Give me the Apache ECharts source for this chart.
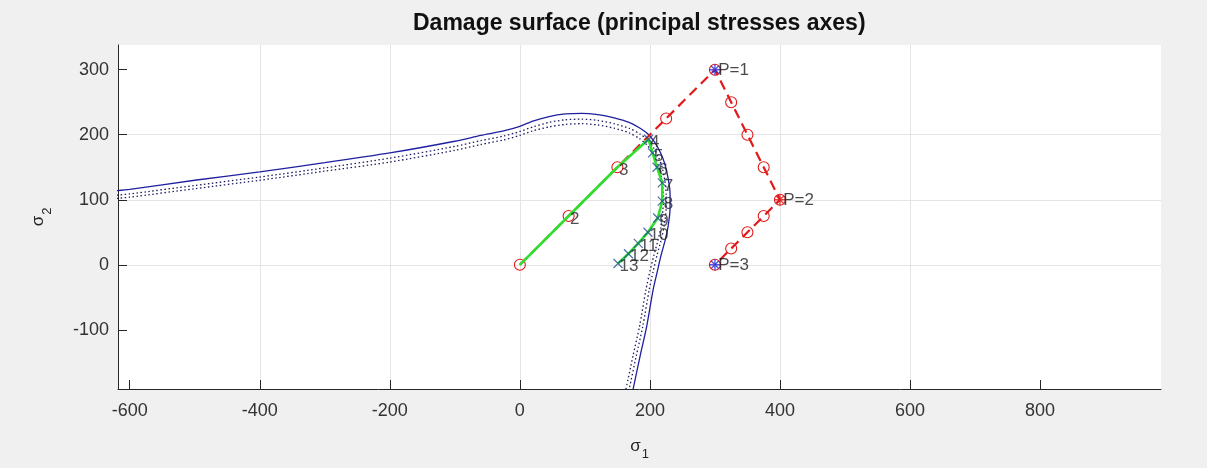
<!DOCTYPE html>
<html>
<head>
<meta charset="utf-8">
<script src="https://cdn.jsdelivr.net/npm/echarts@6/dist/echarts.min.js"></script>
<style>
  html, body { margin: 0; padding: 0; background: #f0f0f0; }
  #chart { width: 1207px; height: 468px; }
</style>
</head>
<body>
<div id="chart"></div>
<script>
// Damage surface in the principal stress plane (sigma1, sigma2)
const surfaceOuter = [
  [-620,114],[-600,116],[-500,130],[-400,143],[-300,157],[-200,172],[-100,190],[-60,199],[-25,206],
  [0,213],[20,221],[45,228],[70,232],[95,233],[120,231],[145,226],[168,219],[185,210],[197,201],
  [207,189],[216,173],[223,155],[228,133],[231,110],[231,88],[228,59],[223,36],[217,14],[211,-12],
  [205,-38],[195,-95],[185,-140],[174,-192]
];
// Surfaces reached at later damage levels (dotted)
const surfaceInnerA = [
  [-620,107],[-600,109],[-500,122],[-400,135],[-300,149],[-200,164],[-100,182],[-60,191],[-25,198],
  [0,205],[20,212],[45,219],[70,223],[95,224],[120,222],[145,217],[168,210],[185,201],[196,192],
  [205,181],[213,166],[219,149],[223,129],[225,108],[225,88],[222,60],[217,37],[211,15],[205,-10],
  [199,-38],[189,-95],[179,-140],[168,-192]
];
const surfaceInnerB = [
  [-620,102],[-600,104],[-500,117],[-400,130],[-300,144],[-200,158],[-100,176],[-60,185],[-25,192],
  [0,199],[20,206],[45,212],[70,216],[95,217],[120,215],[145,210],[168,203],[184,194],[195,185],
  [203,174],[210,160],[216,143],[219,124],[221,104],[220,85],[217,58],[212,36],[206,14],[200,-10],
  [194,-38],[184,-95],[174,-140],[163,-192]
];
// Applied (trial) load path, 13 increments
const loadPath = [
  [0,0],[75,75],[150,150],[225,225],[300,300],[325,250],[350,200],[375,150],[400,100],
  [375,75],[350,50],[325,25],[300,0]
];
// Computed stress path
const stressPath = [
  [0,0],[75,75],[150,150],[198,193],[204,172],[211,150],[219,126],[219,98],[212,72],
  [197,50],[182,33],[167,17],[151,2]
];
const stressLabels = ['', '2', '3', '4', '5', '6', '7', '8', '9', '10', '11', '12', '13'];
const firstReturned = 3;
// Load path corners
const cornerPoints = [[300,300],[400,100],[300,0]];
const cornerLabels = ['P=1', 'P=2', 'P=3'];
const cornerColors = ['#2b2bd6', '#e01818', '#2b2bd6'];

// Axis extents and tick values
const xRange = [-618, 986];
const yRange = [-191, 338];
const xTicks = [-600, -400, -200, 0, 200, 400, 600, 800];
const yTicks = [-100, 0, 100, 200, 300];

const FONT = '"Liberation Sans", Arial, Helvetica, sans-serif';
const AXIS_COLOR = '#262626';
const crossPath = 'path://M0,0L10,10M10,0L0,10';
const starPath = 'path://M5,0L5,10M0,5L10,5M1.6,1.6L8.4,8.4M1.6,8.4L8.4,1.6';

const chart = echarts.init(document.getElementById('chart'));

function valueAxis(range, split, ticks, labelMargin, extra) {
  return Object.assign({
    type: 'value',
    min: range[0],
    max: range[1],
    splitNumber: split,
    axisLine: { show: true, onZero: false, lineStyle: { color: AXIS_COLOR, width: 1 } },
    axisTick: { show: true, inside: true, length: 9, customValues: ticks, lineStyle: { color: AXIS_COLOR, width: 1 } },
    axisLabel: { customValues: ticks, fontSize: 18, color: '#333', fontFamily: FONT, margin: labelMargin },
    splitLine: { show: true, showMinLine: false, showMaxLine: false, lineStyle: { color: '#e4e4e4', width: 1 } }
  }, extra);
}

const option = {
  backgroundColor: '#f0f0f0',
  animation: false,
  graphic: [{
    type: 'text',
    left: 639 - 226,
    top: 12,
    style: {
      text: 'Damage surface (principal stresses axes)',
      fontSize: 23,
      fontWeight: 'bold',
      fontFamily: FONT,
      fill: '#111'
    }
  }],
  grid: {
    left: 118, right: 46, top: 45, bottom: 79,
    show: true, backgroundColor: '#ffffff', borderWidth: 0
  },
  xAxis: valueAxis(xRange, 8, xTicks, 13, {
    name: '{s|σ}{n|1}',
    nameLocation: 'middle',
    nameGap: 43,
    nameTextStyle: {
      rich: {
        s: { fontSize: 17, color: AXIS_COLOR, fontFamily: FONT },
        n: { fontSize: 13, color: AXIS_COLOR, fontFamily: FONT, padding: [16, 0, 0, 1] }
      }
    }
  }),
  yAxis: valueAxis(yRange, 5, yTicks, 9, {
    name: '{s|σ}{n|2}',
    nameLocation: 'middle',
    nameRotate: 90,
    nameGap: 64,
    nameTextStyle: {
      rich: {
        s: { fontSize: 17, color: AXIS_COLOR, fontFamily: FONT },
        n: { fontSize: 13, color: AXIS_COLOR, fontFamily: FONT, padding: [18, 0, 0, 1] }
      }
    }
  }),
  series: [
    {
      type: 'line', data: surfaceInnerB, symbol: 'none', smooth: 0.25, z: 2,
      lineStyle: { color: '#1c1c60', width: 1.3, type: [1.5, 2.5] }
    },
    {
      type: 'line', data: surfaceInnerA, symbol: 'none', smooth: 0.25, z: 2,
      lineStyle: { color: '#1c1c60', width: 1.3, type: [1.5, 2.5] }
    },
    {
      type: 'line', data: surfaceOuter, symbol: 'none', smooth: 0.25, z: 3,
      lineStyle: { color: '#1f1fa0', width: 1.3 }
    },
    {
      type: 'line', data: loadPath, z: 4,
      lineStyle: { color: '#e01a1a', width: 2.2, type: [10, 6] },
      symbol: 'circle', symbolSize: 11,
      itemStyle: { color: 'transparent', borderColor: '#e01a1a', borderWidth: 1.1 }
    },
    {
      type: 'line', data: stressPath, symbol: 'none', z: 5,
      lineStyle: { color: '#2ee02e', width: 2.6 }
    },
    {
      type: 'scatter', data: stressPath.slice(firstReturned), z: 6,
      symbol: crossPath, symbolSize: 9,
      itemStyle: { color: 'transparent', borderColor: '#1f4f8f', borderWidth: 1.2 }
    },
    {
      type: 'scatter', z: 7, symbolSize: 1,
      itemStyle: { color: 'transparent' },
      data: stressPath.map((p, i) => ({ value: p, name: stressLabels[i] })),
      label: {
        show: true, position: 'right', distance: 1, offset: [0, 3],
        formatter: (d) => d.name, fontSize: 17, color: '#262626', fontFamily: FONT
      }
    },
    {
      type: 'scatter', z: 8,
      symbol: starPath, symbolSize: 11,
      data: cornerPoints.map((p, i) => ({
        value: p, name: cornerLabels[i],
        itemStyle: { color: 'transparent', borderColor: cornerColors[i], borderWidth: 1.4 }
      })),
      label: {
        show: true, position: 'right', distance: -3, offset: [0, 1],
        formatter: (d) => d.name, fontSize: 17, color: '#1a1a1a', fontFamily: FONT
      }
    }
  ]
};

chart.setOption(option);
</script>
</body>
</html>
